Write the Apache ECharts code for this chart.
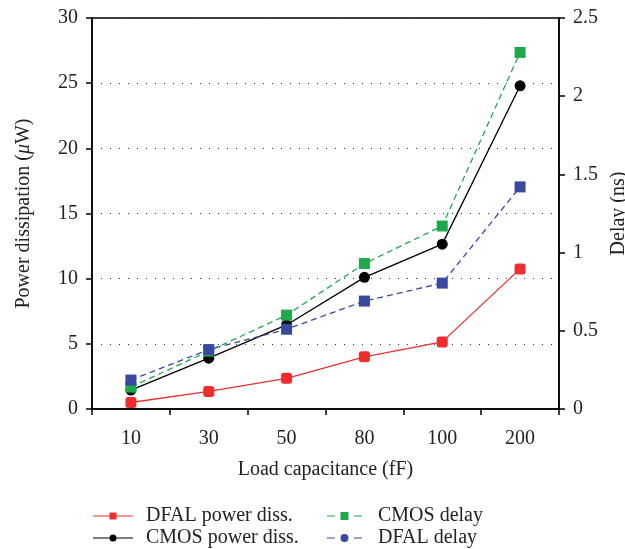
<!DOCTYPE html>
<html><head><meta charset="utf-8">
<script src="https://cdn.jsdelivr.net/npm/echarts@6/dist/echarts.min.js"></script>
<style>html,body{margin:0;padding:0;background:#fff}#c{width:625px;height:549px}</style>
</head><body><div id="c"></div>
<script>
const categories = ['10','30','50','80','100','200'];
const dfalPower = [0.5, 1.35, 2.35, 4.0, 5.15, 10.75];
const cmosPower = [1.45, 3.9, 6.45, 10.1, 12.65, 24.8];
const cmosDelay = [0.14, 0.37, 0.60, 0.93, 1.17, 2.28];
const dfalDelay = [0.185, 0.38, 0.51, 0.69, 0.805, 1.42];
const leftTicks = [0, 5, 10, 15, 20, 25, 30];
const rightTicks = [0, 0.5, 1, 1.5, 2, 2.5];

const FONT = 'Liberation Serif';
const txt = {fontFamily: FONT, fontSize: 20, color: '#222'};
const iconSolidRect = 'path://M0,5.4h40v1.2h-40z M16.5,2.5h7v7h-7z M0,0h0.01v0.01h-0.01z M47.99,11.99h0.01v0.01h-0.01z';
const iconSolidCircle = 'path://M0,5.4h40v1.2h-40z M23.5,6a3.5,3.5 0 1,1 -7,0a3.5,3.5 0 1,1 7,0z M0,0h0.01v0.01h-0.01z M47.99,11.99h0.01v0.01h-0.01z';
const iconDashRect = 'path://M0,5.4h8v1.2h-8z M27,5.4h8v1.2h-8z M13.5,2h8v8h-8z M0,0h0.01v0.01h-0.01z M45.99,11.99h0.01v0.01h-0.01z';
const iconDashCircle = 'path://M0,5.4h8v1.2h-8z M27,5.4h8v1.2h-8z M21.5,6a4,4 0 1,1 -8,0a4,4 0 1,1 8,0z M0,0h0.01v0.01h-0.01z M45.99,11.99h0.01v0.01h-0.01z';
const chart = echarts.init(document.getElementById('c'), null, {renderer: 'canvas'});
chart.setOption({
  animation: false,
  textStyle: {fontFamily: FONT},
  grid: {left: 92, right: 66, top: 18, bottom: 140, outerBoundsMode: 'none', containLabel: false, show: true, borderColor: '#000', borderWidth: 1.5, backgroundColor: 'transparent'},
  legend: [
    {data: [{name: 'DFAL power diss.', icon: iconSolidRect}, {name: 'CMOS power diss.', icon: iconSolidCircle}],
     orient: 'vertical', left: 88, top: 501, height: 60, itemWidth: 48, itemHeight: 12, itemGap: 2, textStyle: txt},
    {data: [{name: 'CMOS delay', icon: iconDashRect}, {name: 'DFAL delay', icon: iconDashCircle}],
     orient: 'vertical', left: 322, top: 501, height: 60, itemWidth: 46, itemHeight: 12, itemGap: 2, textStyle: txt}
  ],
  xAxis: {
    type: 'category', data: categories, boundaryGap: true,
    name: 'Load capacitance (fF)', nameLocation: 'middle', nameGap: 51, nameTextStyle: txt,
    axisLine: {lineStyle: {color: '#000', width: 1.5}},
    axisTick: {show: true, length: 6, lineStyle: {color: '#000', width: 1.5}},
    axisLabel: Object.assign({margin: 20}, txt),
    splitLine: {show: false}
  },
  yAxis: [
    {type: 'value', min: leftTicks[0], max: leftTicks[leftTicks.length-1], interval: 5, position: 'left',
     name: '{n|Power dissipation (}{i|μ}{n|W)}', nameLocation: 'middle', nameGap: 58, nameRotate: 90,
     nameTextStyle: {rich: {n: txt, i: Object.assign({fontStyle: 'italic'}, txt)}},
     axisLine: {show: true, lineStyle: {color: '#000', width: 1.5}},
     axisTick: {show: true, length: 6, lineStyle: {color: '#000', width: 1.5}},
     axisLabel: Object.assign({margin: 14}, txt),
     splitLine: {show: true, lineStyle: {color: '#333', type: [1, 8], width: 1}}},
    {type: 'value', min: rightTicks[0], max: rightTicks[rightTicks.length-1], interval: 0.5, position: 'right',
     name: 'Delay (ns)', nameLocation: 'middle', nameGap: 47, nameRotate: 90, nameTextStyle: txt,
     axisLine: {show: true, lineStyle: {color: '#000', width: 1.5}},
     axisTick: {show: true, length: 6, lineStyle: {color: '#000', width: 1.5}},
     axisLabel: Object.assign({margin: 14}, txt),
     splitLine: {show: false}}
  ],
  series: [
    {name: 'DFAL power diss.', type: 'line', yAxisIndex: 0, data: dfalPower, symbol: 'roundRect', symbolSize: 11,
     itemStyle: {color: '#ee2e2e'}, lineStyle: {color: '#ee2e2e', width: 1.3}},
    {name: 'CMOS power diss.', type: 'line', yAxisIndex: 0, data: cmosPower, symbol: 'circle', symbolSize: 11,
     itemStyle: {color: '#000'}, lineStyle: {color: '#000', width: 1.3}},
    {name: 'CMOS delay', type: 'line', yAxisIndex: 1, data: cmosDelay, symbol: 'rect', symbolSize: 11,
     itemStyle: {color: '#20a84c'}, lineStyle: {color: '#20a84c', width: 1.3, type: [6, 4]}, z: 3},
    {name: 'DFAL delay', type: 'line', yAxisIndex: 1, data: dfalDelay, symbol: 'rect', symbolSize: 11,
     itemStyle: {color: '#3a49a0'}, lineStyle: {color: '#3a49a0', width: 1.3, type: [6, 4]}, z: 4}
  ]
});
</script></body></html>
